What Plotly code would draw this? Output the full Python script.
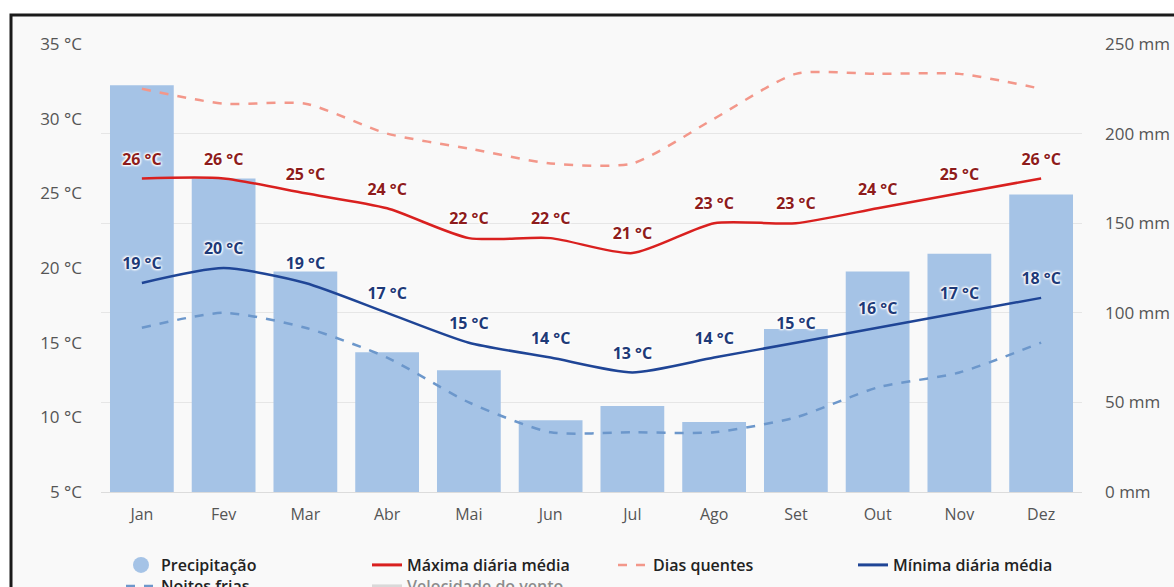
import plotly.graph_objects as go

months = ["Jan", "Fev", "Mar", "Abr", "Mai", "Jun", "Jul", "Ago", "Set", "Out", "Nov", "Dez"]
precip_mm = [227, 175, 123, 78, 68, 40, 48, 39, 91, 123, 133, 166]
max_temp = [26, 26, 25, 24, 22, 22, 21, 23, 23, 24, 25, 26]
hot_days = [32, 31, 31, 29, 28, 27, 27, 30, 33, 33, 33, 32]
min_temp = [19, 20, 19, 17, 15, 14, 13, 14, 15, 16, 17, 18]
cold_nights = [16, 17, 16, 14, 11, 9, 9, 9, 10, 12, 13, 15]

FONT = "Open Sans"
BAR_C = "#a5c3e6"
MAX_C = "#d9201f"
HOT_C = "#f3978a"
MIN_C = "#1f4596"
COLD_C = "#6c97cb"
HALO = "1px 1px 2px white, -1px -1px 2px white, 1px -1px 2px white, -1px 1px 2px white"
SMOOTH = 0.65

fig = go.Figure()

# Precipitation bars (primary axis, drawn underneath)
fig.add_trace(go.Bar(x=months, y=precip_mm, yaxis="y", marker=dict(color=BAR_C, line=dict(width=0)),
                     name="Precipitação", showlegend=False, hoverinfo="skip"))

fig.add_trace(go.Scatter(x=months, y=max_temp, yaxis="y2", mode="lines+markers+text", name="Máxima diária média",
                         showlegend=False,
                         line=dict(color=MAX_C, width=2.5, shape="spline", smoothing=SMOOTH),
                         marker=dict(size=14, opacity=0),
                         text=[f"{v} °C" for v in max_temp], textposition="top center",
                         textfont=dict(family=FONT, size=16, color="#8e1c1c", weight=700, shadow=HALO)))

fig.add_trace(go.Scatter(x=months, y=hot_days, yaxis="y2", mode="lines", name="Dias quentes", legend="legend3",
                         line=dict(color=HOT_C, width=2.5, dash="dash", shape="spline", smoothing=SMOOTH)))

fig.add_trace(go.Scatter(x=months, y=min_temp, yaxis="y2", mode="lines+markers+text", name="Mínima diária média",
                         showlegend=False,
                         line=dict(color=MIN_C, width=2.5, shape="spline", smoothing=SMOOTH),
                         marker=dict(size=14, opacity=0),
                         text=[f"{v} °C" for v in min_temp], textposition="top center",
                         textfont=dict(family=FONT, size=16, color="#1e3a78", weight=700, shadow=HALO)))

fig.add_trace(go.Scatter(x=months, y=cold_nights, yaxis="y2", mode="lines", name="Noites frias", legend="legend5",
                         line=dict(color=COLD_C, width=2.5, dash="dash", shape="spline", smoothing=SMOOTH)))

# legend-only entries
fig.add_trace(go.Scatter(x=[None], y=[None], mode="markers", name="Precipitação", legend="legend",
                         marker=dict(symbol="circle", size=16, color=BAR_C)))
fig.add_trace(go.Scatter(x=[None], y=[None], mode="lines", name="Máxima diária média", legend="legend2",
                         line=dict(color=MAX_C, width=3)))
fig.add_trace(go.Scatter(x=[None], y=[None], mode="lines", name="Mínima diária média", legend="legend4",
                         line=dict(color=MIN_C, width=3)))
fig.add_trace(go.Scatter(x=[None], y=[None], mode="lines", name="Velocidade do vento", legend="legend6",
                         visible="legendonly", line=dict(color="#bbbbbb", width=3)))

L, R, T, B = 101, 92, 44, 95
W, H = 1174, 587
pw, ph = W - L - R, H - T - B

def leg(text_x, yc):
    return dict(orientation="v", xref="container", yref="container",
                x=(text_x - 40) / W, xanchor="left", y=1 - yc / H, yanchor="middle",
                font=dict(family=FONT, size=16, color="#222222", weight=600),
                bgcolor="rgba(0,0,0,0)", itemclick=False, itemdoubleclick=False)

fig.update_layout(
    width=W, height=H,
    margin=dict(l=L, r=R, t=T, b=B, autoexpand=False),
    paper_bgcolor="white",
    plot_bgcolor="rgba(0,0,0,0)",
    font=dict(family=FONT, color="#555555", size=16),
    bargap=0.22,
    xaxis=dict(range=[-0.5, 11.5], showgrid=False, showline=True, linecolor="#dcdcdc", linewidth=1,
               automargin=False, tickfont=dict(size=16, color="#555555"), ticks="", ticklabelstandoff=8),
    yaxis=dict(range=[0, 250], dtick=50, ticksuffix=" mm", side="right", automargin=False,
               showgrid=True, gridcolor="#e6e6e6", zeroline=False,
               tickfont=dict(size=17, color="#555555"), ticks="", ticklabelstandoff=22),
    yaxis2=dict(range=[5, 35], dtick=5, ticksuffix=" °C", overlaying="y", side="left", automargin=False,
                showgrid=False, zeroline=False, tickfont=dict(size=17, color="#555555"), ticks="",
                ticklabelstandoff=18),
    legend=leg(161, 565),
    legend2=leg(407, 565),
    legend3=leg(653, 565),
    legend4=leg(893, 565),
    legend5=leg(161, 586),
    legend6=leg(407, 586),
    showlegend=True,
    shapes=[dict(type="rect", xref="paper", yref="paper", layer="below",
                 x0=(11 - L) / pw, x1=(1250 - L) / pw,
                 y0=-(700 - (T + ph)) / ph, y1=((T + ph) - 15) / ph,
                 line=dict(color="#1a1a1a", width=3), fillcolor="#f9f9f9")],
)

fig.write_html("out.html", config={"displayModeBar": False},
               post_script="document.body.style.margin='0px';")
